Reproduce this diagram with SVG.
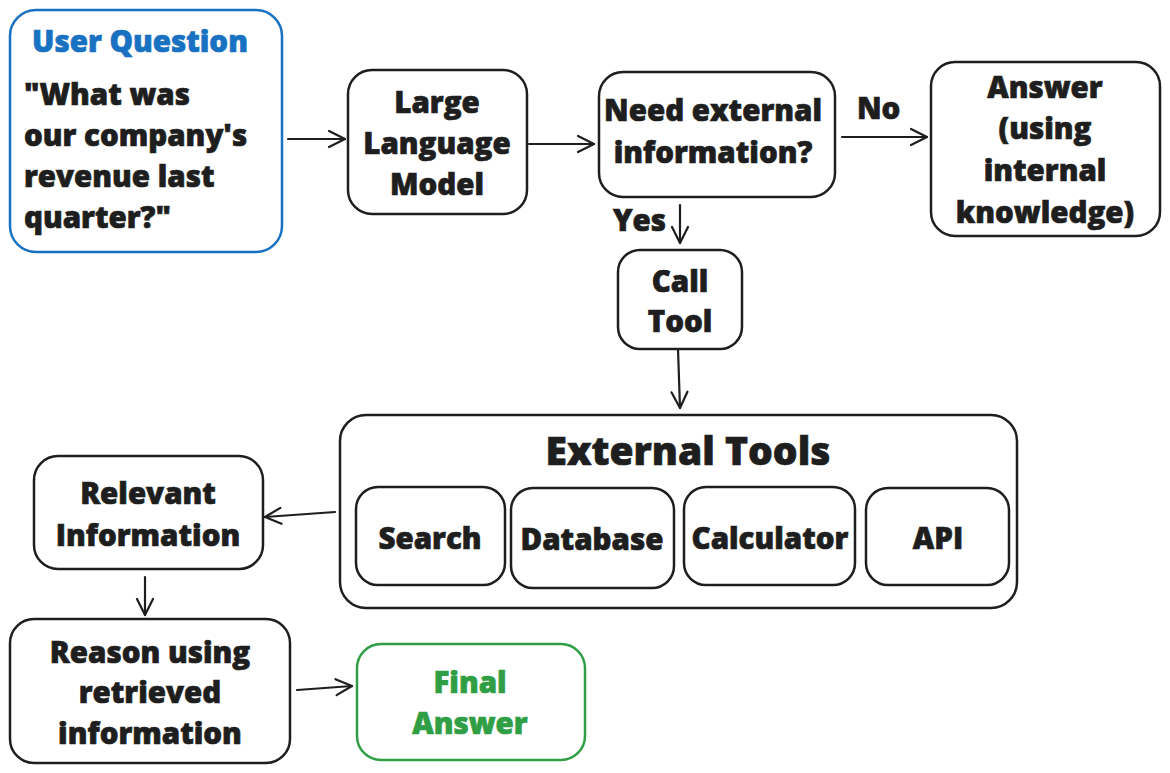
<svg xmlns="http://www.w3.org/2000/svg" width="1170" height="773" viewBox="0 0 1170 773">
<defs>
<marker id="ah" viewBox="0 0 20 20" refX="18" refY="10" markerWidth="20" markerHeight="20" markerUnits="userSpaceOnUse" orient="auto">
<path d="M2,2 L18,10 L2,18" fill="none" stroke="#1e1e1e" stroke-width="2.2" stroke-linecap="round" stroke-linejoin="round"/>
</marker>
</defs>
<style>
.box{fill:#fff;stroke:#1e1e1e;stroke-width:2.5}
.blue{stroke:#1971c2}
.green{stroke:#2f9e44}
text{font-family:"Open Sans",Lato,"Liberation Sans",sans-serif;font-weight:800;fill:#1e1e1e;stroke:#1e1e1e;stroke-width:0.7;font-size:29.5px}
.c{text-anchor:middle}
.tb{fill:#1971c2;stroke:#1971c2}
.tg{fill:#2f9e44;stroke:#2f9e44}
.conn{fill:none;stroke:#1e1e1e;stroke-width:2.2;stroke-linecap:round;marker-end:url(#ah)}
</style>
<rect width="1170" height="773" fill="#fff"/>
<g id="connectors">
<path class="conn" d="M288,139 L345,139"/>
<path class="conn" d="M529,144 L594,144"/>
<path class="conn" d="M842,137 L927,137"/>
<path class="conn" d="M680,205 L680,243"/>
<path class="conn" d="M678,349 L680,408"/>
<path class="conn" d="M335,512 L265,517"/>
<path class="conn" d="M145,577 L145,615"/>
<path class="conn" d="M297,690 L352,686"/>
</g>
<g id="user-question">
<rect class="box blue" x="10" y="10" width="272" height="242" rx="26"/>
<text class="c tb" x="140" y="52">User Question</text>
<text x="24" y="105">"What was</text>
<text x="24" y="146">our company's</text>
<text x="24" y="187">revenue last</text>
<text x="24" y="228">quarter?"</text>
</g>
<g id="llm">
<rect class="box" x="348" y="70" width="179" height="144" rx="24"/>
<text class="c" x="437" y="113">Large</text>
<text class="c" x="437" y="154">Language</text>
<text class="c" x="437" y="195">Model</text>
</g>
<g id="need-external">
<rect class="box" x="599" y="72" width="236" height="125" rx="24"/>
<text class="c" x="713" y="121">Need external</text>
<text class="c" x="713" y="163">information?</text>
</g>
<g id="label-no"><text x="857" y="119">No</text></g>
<g id="answer-internal">
<rect class="box" x="931" y="62" width="229" height="174" rx="24"/>
<text class="c" x="1045" y="98">Answer</text>
<text class="c" x="1045" y="139">(using</text>
<text class="c" x="1045" y="181">internal</text>
<text class="c" x="1045" y="223">knowledge)</text>
</g>
<g id="label-yes"><text x="613" y="231">Yes</text></g>
<g id="call-tool">
<rect class="box" x="618" y="250" width="124" height="99" rx="22"/>
<text class="c" x="680" y="292">Call</text>
<text class="c" x="680" y="332">Tool</text>
</g>
<g id="external-tools">
<rect class="box" x="340" y="415" width="677" height="193" rx="26"/>
<text class="c" x="688" y="465" style="font-size:39px">External Tools</text>
</g>
<g id="search">
<rect class="box" x="356" y="487" width="149" height="98" rx="22"/>
<text class="c" x="430" y="549">Search</text>
</g>
<g id="database">
<rect class="box" x="511" y="488" width="163" height="100" rx="22"/>
<text class="c" x="592" y="550">Database</text>
</g>
<g id="calculator">
<rect class="box" x="684" y="487" width="171" height="98" rx="22"/>
<text class="c" x="770" y="549">Calculator</text>
</g>
<g id="api">
<rect class="box" x="866" y="488" width="143" height="97" rx="22"/>
<text class="c" x="938" y="549">API</text>
</g>
<g id="relevant-info">
<rect class="box" x="34" y="456" width="229" height="113" rx="24"/>
<text class="c" x="148" y="504">Relevant</text>
<text class="c" x="148" y="546">Information</text>
</g>
<g id="reason">
<rect class="box" x="10" y="619" width="280" height="144" rx="24"/>
<text class="c" x="150" y="663">Reason using</text>
<text class="c" x="150" y="703">retrieved</text>
<text class="c" x="150" y="744">information</text>
</g>
<g id="final-answer">
<rect class="box green" x="357" y="644" width="228" height="116" rx="24"/>
<text class="c tg" x="470" y="693">Final</text>
<text class="c tg" x="470" y="734">Answer</text>
</g>
</svg>
